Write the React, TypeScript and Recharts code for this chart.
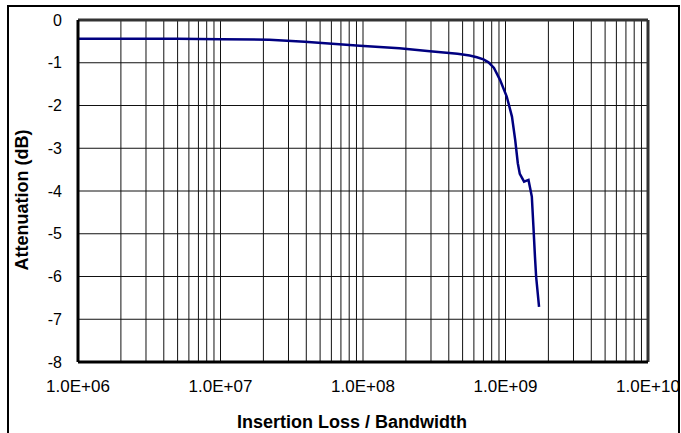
import { CartesianGrid, Line, LineChart, ReferenceLine, XAxis, YAxis } from 'recharts'

// frequency (Hz) vs attenuation (dB)
const freqs = [
  1e6, 5e6, 1e7, 2.2e7, 3.9e7, 9.5e7, 1.8e8, 2.95e8, 4.6e8, 5.6e8, 6.3e8, 7.0e8, 7.6e8, 8.3e8, 9.15e8,
  1.02e9, 1.11e9, 1.17e9, 1.22e9, 1.26e9, 1.35e9, 1.45e9, 1.53e9, 1.57e9, 1.61e9, 1.64e9, 1.72e9,
]
const attenuation = [
  -0.44, -0.44, -0.45, -0.46, -0.51, -0.6, -0.66, -0.73, -0.79, -0.83, -0.87, -0.92, -0.99, -1.12, -1.4,
  -1.79, -2.26, -2.81, -3.35, -3.6, -3.78, -3.74, -4.13, -4.83, -5.54, -6.0, -6.71,
]

const decades = [1e6, 1e7, 1e8, 1e9]
const multipliers = [1, 2, 3, 4, 5, 6, 7, 8, 9]
const xTicks = [...decades.flatMap((d) => multipliers.map((m) => m * d)), 1e10]
const yTicks = [-8, -7, -6, -5, -4, -3, -2, -1, 0]

const data = freqs.map((f, i) => ({ f, v: attenuation[i] }))

const font = 'Arial, "Liberation Sans", sans-serif'

function fmtTick(v: number) {
  const e = Math.log10(v)
  if (Math.abs(e - Math.round(e)) > 1e-9) return ''
  const exp = Math.round(e)
  return `1.0E+${String(exp).padStart(2, '0')}`
}

export default function App() {
  return (
    <div style={{ position: 'absolute', left: 0, top: 0, width: 681, height: 433, overflow: 'hidden', background: '#fff', fontFamily: font }}>
      {/* outer chart frame */}
      <div style={{ position: 'absolute', left: 7, top: 5, width: 673, height: 440, border: '2px solid #000', boxSizing: 'border-box' }} />
      <LineChart width={681} height={433} data={data} margin={{ top: 20, right: 33, bottom: 0, left: 0 }} style={{ position: 'absolute', left: 0, top: 0 }}>
        <CartesianGrid stroke="#111" strokeWidth={1} />
        <XAxis
          dataKey="f"
          type="number"
          scale="log"
          domain={[1e6, 1e10]}
          allowDataOverflow
          ticks={xTicks}
          interval={0}
          tickFormatter={fmtTick}
          tickLine={false}
          tickSize={6}
          tickMargin={12}
          height={71}
          axisLine={{ stroke: '#000', strokeWidth: 3 }}
          tick={{ fill: '#000', fontSize: 17, fontFamily: font }}
        />
        <YAxis
          type="number"
          domain={[-8, 0]}
          ticks={yTicks}
          interval={0}
          width={78}
          tickLine={false}
          tickSize={6}
          tickMargin={10}
          axisLine={{ stroke: '#000', strokeWidth: 3 }}
          tick={{ fill: '#000', fontSize: 16, fontFamily: font }}
        />
        <ReferenceLine y={0} stroke="#333" strokeWidth={3} />
        <ReferenceLine x={1e10} stroke="#333" strokeWidth={3} />
        <Line
          dataKey="v"
          type="linear"
          stroke="#000080"
          strokeWidth={2.5}
          dot={false}
          isAnimationActive={false}
        />
      </LineChart>
      <div
        style={{
          position: 'absolute',
          left: 352,
          top: 412,
          transform: 'translateX(-50%)',
          whiteSpace: 'nowrap',
          fontWeight: 'bold',
          fontSize: 18,
          lineHeight: '21px',
          color: '#000',
        }}
      >
        Insertion Loss / Bandwidth
      </div>
      <div
        style={{
          position: 'absolute',
          left: 22,
          top: 200,
          transform: 'translate(-50%, -50%) rotate(-90deg)',
          whiteSpace: 'nowrap',
          fontWeight: 'bold',
          fontSize: 18,
          lineHeight: '21px',
          color: '#000',
        }}
      >
        Attenuation (dB)
      </div>
    </div>
  )
}
